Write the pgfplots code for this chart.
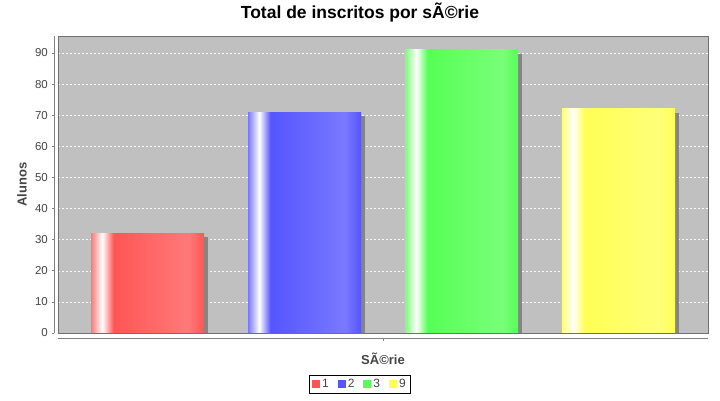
\documentclass[border=0pt]{standalone}
\usepackage{pgfplots}
\pgfplotsset{compat=1.18}
\usepackage{fontspec}
\setmainfont{Liberation Sans}
\definecolor{rA}{HTML}{FF5555}\definecolor{rB}{HTML}{FF7979}
\definecolor{bA}{HTML}{5555FF}\definecolor{bB}{HTML}{7979FF}
\definecolor{gA}{HTML}{55FF55}\definecolor{gB}{HTML}{79FF79}
\definecolor{yA}{HTML}{FFFF55}\definecolor{yB}{HTML}{FFFF79}
\definecolor{plotbg}{HTML}{C0C0C0}
\definecolor{axisgray}{HTML}{808080}
\definecolor{outline}{HTML}{707070}
\definecolor{ticklab}{HTML}{444444}
\definecolor{shadowc}{HTML}{858585}
\pgfdeclarehorizontalshading{redbar}{100bp}{color(0bp)=(rB); color(25bp)=(rB); color(30bp)=(white); color(35bp)=(rA); color(68bp)=(rB); color(75bp)=(rA); color(100bp)=(rA)}
\pgfdeclarehorizontalshading{bluebar}{100bp}{color(0bp)=(bB); color(25bp)=(bB); color(30bp)=(white); color(35bp)=(bA); color(68bp)=(bB); color(75bp)=(bA); color(100bp)=(bA)}
\pgfdeclarehorizontalshading{greenbar}{100bp}{color(0bp)=(gB); color(25bp)=(gB); color(30bp)=(white); color(35bp)=(gA); color(68bp)=(gB); color(75bp)=(gA); color(100bp)=(gA)}
\pgfdeclarehorizontalshading{yellowbar}{100bp}{color(0bp)=(yB); color(25bp)=(yB); color(30bp)=(white); color(35bp)=(yA); color(68bp)=(yB); color(75bp)=(yA); color(100bp)=(yA)}
\begin{document}
\begin{tikzpicture}
\path[use as bounding box] (0,0) rectangle (720pt,400pt);
\begin{axis}[
  at={(58pt,67pt)}, anchor=south west,
  scale only axis, width=650pt, height=297pt,
  xmin=-0.5701, xmax=3.5701, ymin=0, ymax=95.46,
  /pgf/number format/assume math mode=true,
  axis background/.style={fill=plotbg},
  axis line style={draw=none},
  tick pos=left, tick align=outside, major tick length=2.5pt,
  ytick={0,10,...,90}, xtick={1.5}, xticklabels={},
  ymajorgrids, xmajorgrids=false,
  major grid style={white!92!plotbg, dash pattern=on 2pt off 2pt, line width=0.5pt},
  ytick style={draw=axisgray, xshift=-4pt, line width=0.6pt},
  xtick style={draw=axisgray, yshift=-5pt, line width=0.6pt},
  yticklabel style={anchor=east, inner sep=0pt, xshift=-7.5pt, font=\fontsize{11.5}{13}\selectfont, text=ticklab},
  title={Total de inscritos por sÃ©rie},
  title style={at={(0.4646,1)}, anchor=base, yshift=11pt, font=\bfseries\fontsize{17.5}{20}\selectfont},
  xlabel={SÃ©rie},
  xlabel style={at={(0.5,0)}, anchor=base, yshift=-31pt, font=\bfseries\fontsize{13}{15}\selectfont, text=ticklab},
  ylabel={Alunos},
  ylabel style={at={(-0.0554,0.5)}, anchor=center, font=\bfseries\fontsize{13}{15}\selectfont, text=ticklab},
  legend columns=4,
  legend style={at={(0.4646,0)}, anchor=north, yshift=-42pt, draw=black, line width=0.8pt,
    font=\fontsize{12}{14}\selectfont, text=ticklab, inner xsep=3pt, inner ysep=2pt,
    /tikz/every even column/.append style={column sep=7pt}},
  legend image code/.code={\fill[#1, draw=none] (0pt,-4pt) rectangle (8pt,4pt);},
  after end axis/.code={
    \draw[outline, line width=0.8pt] (rel axis cs:0,0) rectangle (rel axis cs:1,1);
    \draw[axisgray, line width=0.8pt] ([xshift=-4pt]rel axis cs:0,0) -- ([xshift=-4pt]rel axis cs:0,1);
    \draw[axisgray, line width=0.8pt] ([yshift=-5pt]rel axis cs:0,0) -- ([yshift=-5pt]rel axis cs:1,0);
  },
]
% shadows
\addplot[forget plot, ybar, bar width=113pt, bar shift=0pt, fill=shadowc, draw=none, xshift=4pt, yshift=-4pt] coordinates {(0,32)};
\addplot[forget plot, ybar, bar width=113pt, bar shift=0pt, fill=shadowc, draw=none, xshift=4pt, yshift=-4pt] coordinates {(1,71)};
\addplot[forget plot, ybar, bar width=113pt, bar shift=0pt, fill=shadowc, draw=none, xshift=4pt, yshift=-4pt] coordinates {(2,91)};
\addplot[forget plot, ybar, bar width=113pt, bar shift=0pt, fill=shadowc, draw=none, xshift=4pt, yshift=-4pt] coordinates {(3,72)};
% bars
\addplot[forget plot, ybar, bar width=113pt, bar shift=0pt, shading=redbar, draw=none] coordinates {(0,32)};
\addplot[forget plot, ybar, bar width=113pt, bar shift=0pt, shading=bluebar, draw=none] coordinates {(1,71)};
\addplot[forget plot, ybar, bar width=113pt, bar shift=0pt, shading=greenbar, draw=none] coordinates {(2,91)};
\addplot[forget plot, ybar, bar width=113pt, bar shift=0pt, shading=yellowbar, draw=none] coordinates {(3,72)};
\addlegendimage{fill=rA}
\addlegendimage{fill=bA}
\addlegendimage{fill=gA}
\addlegendimage{fill=yA}
\legend{1,2,3,9}
\end{axis}
\end{tikzpicture}
\end{document}
